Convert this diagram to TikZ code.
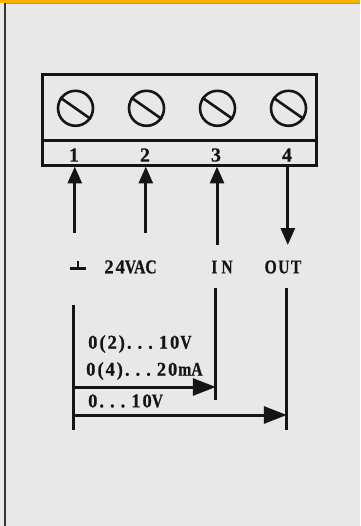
\documentclass[tikz,border=0pt]{standalone}
\usepackage{fontspec}
\setmainfont{Liberation Serif}
\newfontfamily\labfont[LetterSpace=10,FakeStretch=0.95,FakeBold=0.6]{Liberation Serif}
\newfontfamily\capf[FakeStretch=0.8,FakeBold=0.6]{Liberation Serif}
\newfontfamily\numf[FakeBold=0.5]{Liberation Serif}
\newcommand{\ddd}{.\kern6pt.\kern6pt.\kern6pt}
\usetikzlibrary{arrows.meta}
\definecolor{panel}{HTML}{E8E8E8}
\definecolor{ink}{HTML}{151515}
\definecolor{topbar}{HTML}{F5B400}
\tikzset{
  x=1pt,y=-1pt,
  frame/.style={draw=ink,line width=3pt},
  screw/.style={draw=ink,line width=2.6pt,circle,minimum size=35pt,inner sep=0pt},
  slot/.style={draw=ink,line width=2.6pt},
  wire/.style={draw=ink,line width=3pt},
  flow/.style={wire,-{Triangle[length=17pt,width=14pt]}},
  flowb/.style={wire,-{Triangle[length=23pt,width=17pt]}},
  num/.style={font=\numf\bfseries\fontsize{20}{20}\selectfont,text=ink,inner sep=0pt},
  lab/.style={font=\labfont\bfseries\fontsize{19.5}{20}\selectfont,text=ink,inner sep=0pt},
}
\begin{document}
\begin{tikzpicture}
\useasboundingbox (0,0) rectangle (360,526);
\fill[panel] (0,0) rectangle (360,526);
\fill[topbar] (0,0) rectangle (360,2.6);
\draw[gray!80,line width=1.2pt] (4.5,3.4) -- (360,3.4);
\draw[ink!70!gray,line width=1.8pt] (5,3.4) -- (5,526);
% terminal block
\draw[frame] (42.7,74.2) rectangle (316.7,165.8);
\draw[frame] (42.7,140.7) -- (316.7,140.7);
\foreach \n/\x in {1/75.5,2/146.5,3/217.5,4/288.5}{
  \node[screw] (s\n) at (\x,108.3) {};
  \draw[slot] (s\n.145) -- (s\n.-35);
}
\node[num] (n1) at (74,155) {1};
\node[num] (n2) at (145,155) {2};
\node[num] (n3) at (216,155) {3};
\node[num] (n4) at (287,155) {4};
% connection points
\coordinate (t1) at (74.8,166.5);
\coordinate (t2) at (145.8,166.5);
\coordinate (t3) at (217,166.5);
\coordinate (t4) at (287.8,166.5);
\coordinate (b1) at (74.8,233);
\coordinate (b2) at (145.8,233);
\coordinate (b3) at (217,245);
\coordinate (b4) at (287.8,245);
\draw[flow] (b1) -- (t1);
\draw[flow] (b2) -- (t2);
\draw[flow] (b3) -- (t3);
\draw[flow] (t4) -- (b4);
% labels
\coordinate (g1) at (70,268.5);
\coordinate (g2) at (85.5,268.5);
\coordinate (g3) at (78,261);
\coordinate (g4) at (78,268.5);
\draw[ink,line width=2.8pt] (g1) -- (g2);
\draw[ink,line width=2.2pt] (g3) -- (g4);
\node[lab] (vac) at (130.5,267) {24{\capf VAC}};
\node[lab] (in) at (222,267) {{\capf I\kern4pt N}};
\node[lab] (out) at (283,267) {{\capf O\kern1.5pt U\kern1.5pt T}};
% lower rails
\coordinate (r0a) at (73.7,305);
\coordinate (r0b) at (73.7,430);
\coordinate (r1a) at (215.8,288);
\coordinate (r1b) at (215.8,400);
\coordinate (r2a) at (286.8,288);
\coordinate (r2b) at (286.8,430);
\draw[wire] (r0a) -- (r0b);
\draw[wire] (r1a) -- (r1b);
\draw[wire] (r2a) -- (r2b);
\coordinate (a1s) at (73.7,387);
\coordinate (a1e) at (215.8,387);
\coordinate (a2s) at (73.7,415);
\coordinate (a2e) at (286.8,415);
\draw[flowb] (a1s) -- (a1e);
\draw[flowb] (a2s) -- (a2e);
\node[lab,anchor=west] (t10) at (88,344) {0\kern2pt(2)\kern2pt\ddd 10\kern1pt{\capf V}};
\node[lab,anchor=west] (t20) at (86,371) {0\kern2pt(4)\kern2pt\ddd 20\kern1pt{\capf mA}};
\node[lab,anchor=west] (t0) at (88,401) {0\ddd 10{\capf V}};
\end{tikzpicture}
\end{document}
